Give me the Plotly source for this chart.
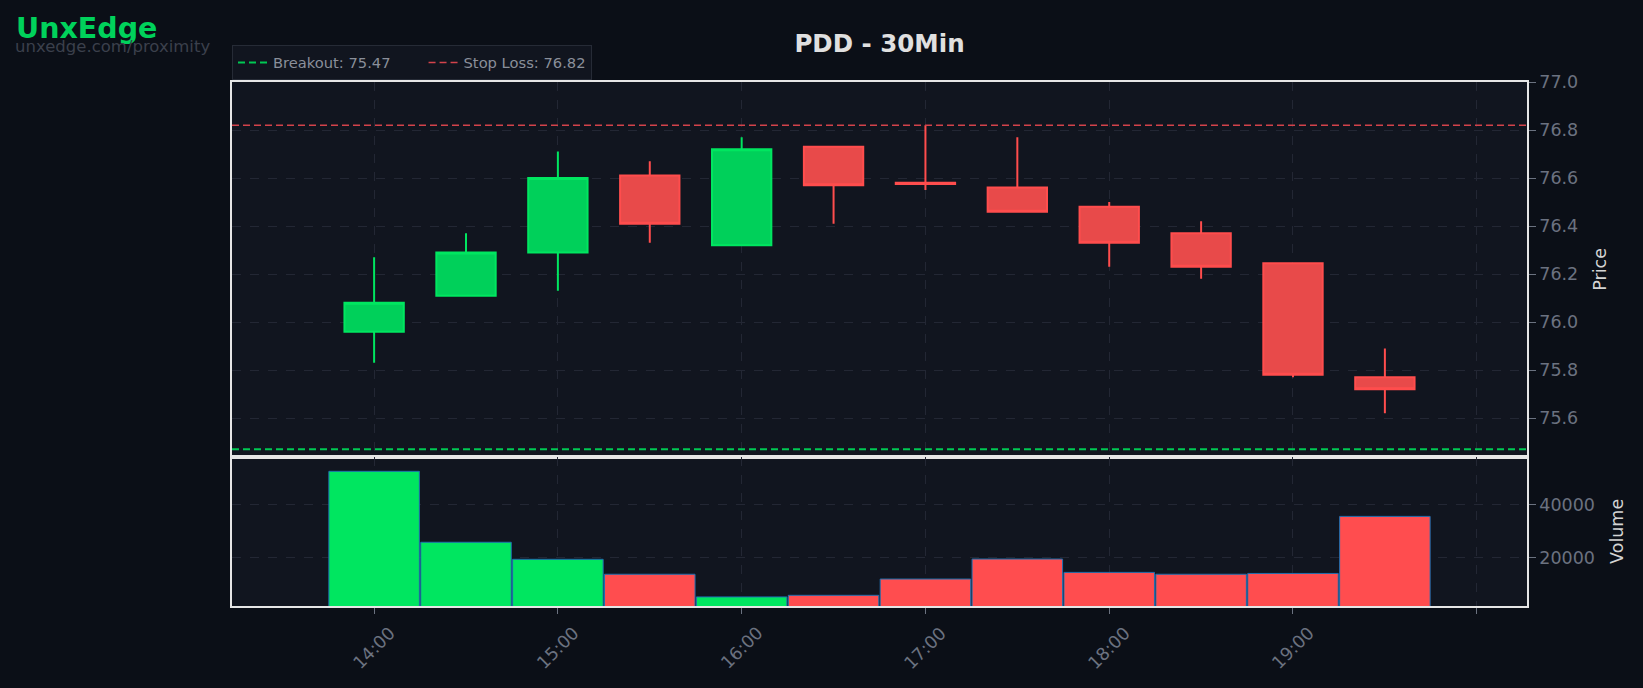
import pandas as pd
import plotly.graph_objects as go
from plotly.subplots import make_subplots

# ---------------- data ----------------
date = "2024-06-14"
times = ["14:00", "14:30", "15:00", "15:30", "16:00", "16:30",
         "17:00", "17:30", "18:00", "18:30", "19:00", "19:30"]
opens = [75.96, 76.11, 76.29, 76.61, 76.32, 76.73, 76.58, 76.56, 76.48, 76.37, 76.245, 75.77]
highs = [76.27, 76.37, 76.71, 76.67, 76.77, 76.73, 76.82, 76.77, 76.50, 76.42, 76.245, 75.89]
lows = [75.83, 76.11, 76.13, 76.33, 76.32, 76.41, 76.55, 76.46, 76.23, 76.18, 75.77, 75.62]
closes = [76.08, 76.29, 76.60, 76.41, 76.72, 76.57, 76.575, 76.46, 76.33, 76.23, 75.78, 75.72]
volumes = [52400, 25800, 19400, 13800, 5300, 5900, 12000, 19500, 14500, 13800, 14100, 35500]
breakout = 75.47
stop_loss = 76.82
tick_times = ["14:00", "15:00", "16:00", "17:00", "18:00", "19:00", "20:00"]
tick_labels = ["14:00", "15:00", "16:00", "17:00", "18:00", "19:00"]

# ---------------- styling ----------------
FONT = "DejaVu Sans"
PAPER = "#0b0f17"
PLOT = "#11151f"
GRID = "#232734"
AXLINE = "#e6e6e6"
TICK = "#6b7280"
UP_FILL, UP_LINE = "#00d05a", "#00e660"
DN_FILL, DN_LINE = "#e84a4a", "#ff4d4d"
VOL_UP, VOL_DN = "#00e660", "#ff4d4f"

x = pd.to_datetime([f"{date} {t}" for t in times])
pad = pd.Timedelta(minutes=46.4)
x_range = [x[0] - pad, x[-1] + pad]
tickvals = pd.to_datetime([f"{date} {t}" for t in tick_times])

vol_colors = [VOL_UP if c >= o else VOL_DN for o, c in zip(opens, closes)]

fig = make_subplots(rows=2, cols=1, shared_xaxes=True, vertical_spacing=0)

fig.add_trace(go.Candlestick(
    x=x, open=opens, high=highs, low=lows, close=closes,
    increasing=dict(fillcolor=UP_FILL, line=dict(color=UP_LINE, width=2)),
    decreasing=dict(fillcolor=DN_FILL, line=dict(color=DN_LINE, width=2)),
    whiskerwidth=0, showlegend=False, name="PDD"), row=1, col=1)

# non-breaking spaces only widen the first legend entry (spacing between items)
fig.add_trace(go.Scatter(
    x=x_range, y=[breakout, breakout], mode="lines",
    line=dict(color="#00c853", width=2, dash="7px,4px"),
    name=f"Breakout: {breakout:.2f}" + "\u00a0" * 6), row=1, col=1)
fig.add_trace(go.Scatter(
    x=x_range, y=[stop_loss, stop_loss], mode="lines",
    line=dict(color="#d3434b", width=1.6, dash="7px,4px"),
    name=f"Stop Loss: {stop_loss:.2f}"), row=1, col=1)

fig.add_trace(go.Bar(
    x=x, y=volumes, marker=dict(color=vol_colors, line=dict(color="#1f6fb0", width=1)),
    showlegend=False, name="Volume"), row=2, col=1)

axis_common = dict(showline=True, linecolor=AXLINE, linewidth=1.5, mirror=True,
                   showgrid=True, gridcolor=GRID, griddash="dash", gridwidth=1,
                   zeroline=False)

fig.update_xaxes(**axis_common, type="date", range=x_range, tickvals=tickvals,
                 rangeslider_visible=False)
fig.update_xaxes(showticklabels=False, ticks="", row=1, col=1)
fig.update_xaxes(showticklabels=False, ticks="outside", ticklen=6, tickcolor=TICK,
                 row=2, col=1)

fig.update_yaxes(**axis_common, side="right", ticks="outside", ticklen=7, tickcolor=TICK,
                 tickfont=dict(family=FONT, size=17.5, color=TICK),
                 title_font=dict(family=FONT, size=17.5, color="#d4d4d4"))
fig.update_yaxes(range=[75.439, 77.0], dtick=0.2, tickformat=".1f",
                 title_text="Price", title_standoff=17, domain=[0.2849, 1.0], row=1, col=1)
fig.update_yaxes(range=[1890, 57880], tickvals=[20000, 40000], tickformat="d",
                 title_text="Volume", title_standoff=17, domain=[0.0, 0.2849], row=2, col=1)

annotations = []
for lab in tick_labels:
    annotations.append(dict(
        x=pd.Timestamp(f"{date} {lab}"), xref="x2", y=-0.0807, yref="paper",
        text=lab, textangle=-45, showarrow=False, xanchor="center", yanchor="middle",
        font=dict(family=FONT, size=17.5, color=TICK)))
annotations.append(dict(
    x=-0.1686, xref="paper", y=1.103, yref="paper", text="UnxEdge", showarrow=False,
    xanchor="left", yanchor="middle",
    font=dict(family=FONT, size=28.5, color="#00d25b", weight="bold")))
annotations.append(dict(
    x=-0.1694, xref="paper", y=1.0687, yref="paper", text="unxedge.com/proximity",
    showarrow=False, xanchor="left", yanchor="middle",
    font=dict(family=FONT, size=16.5, color="#3b404c")))

fig.update_layout(
    width=1643, height=688,
    margin=dict(l=231.5, r=116.3, t=82, b=82, autoexpand=False),
    paper_bgcolor=PAPER, plot_bgcolor=PLOT,
    font=dict(family=FONT, color=TICK),
    title=dict(text="PDD - 30Min", x=0.5, xref="paper", xanchor="center",
               y=1 - 43 / 688, yref="container", yanchor="middle",
               font=dict(family=FONT, size=24.5, color="#e0e0e0", weight="bold")),
    legend=dict(orientation="h", x=0, xanchor="left", y=1.003, yanchor="bottom",
                bgcolor="#11151f", bordercolor="#262b36", borderwidth=1,
                font=dict(family=FONT, size=14.7, color="#8a8f9a")),
    boxgap=0.354,
    boxgroupgap=0,
    bargap=0.015,
    annotations=annotations,
    showlegend=True,
)

fig.write_html("out.html")
